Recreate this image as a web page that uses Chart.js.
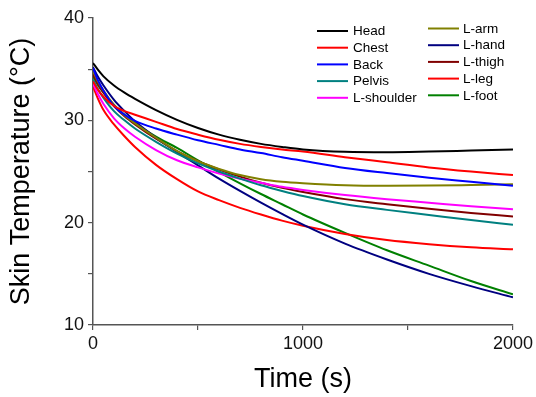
<!DOCTYPE html>
<html>
<head>
<meta charset="utf-8">
<script src="https://cdn.jsdelivr.net/npm/chart.js@4.4.0/dist/chart.umd.min.js"></script>
<style>
  html, body { margin: 0; padding: 0; background: #fff; }
  #wrap { width: 536px; height: 397px; }
</style>
</head>
<body>
<div id="wrap"><canvas id="chart" width="536" height="397"></canvas></div>
<script>
// time points (s)
const times = [0, 25, 50, 100, 150, 200, 300, 400, 500, 600, 700, 800, 900, 1000, 1200, 1400, 1600, 1800, 2000];

// skin temperatures (°C)
const head      = [35.6, 34.9, 34.3, 33.4, 32.7, 32.1, 31.0, 30.05, 29.25, 28.6, 28.1, 27.7, 27.4, 27.15, 26.92, 26.88, 26.95, 27.05, 27.15];
const chest     = [33.8, 32.95, 32.3, 31.4, 30.9, 30.55, 29.85, 29.15, 28.6, 28.1, 27.7, 27.4, 27.15, 26.95, 26.4, 25.9, 25.4, 25.0, 24.65];
const back      = [35.1, 33.85, 32.9, 31.4, 30.55, 29.95, 29.2, 28.6, 28.05, 27.6, 27.15, 26.8, 26.4, 26.05, 25.35, 24.85, 24.4, 24.0, 23.6];
const pelvis    = [34.0, 33.0, 32.2, 30.9, 30.0, 29.2, 27.9, 26.75, 25.8, 25.0, 24.3, 23.65, 23.1, 22.6, 21.8, 21.25, 20.75, 20.25, 19.8];
const lShoulder = [33.6, 32.5, 31.6, 30.2, 29.2, 28.4, 27.1, 26.1, 25.4, 24.8, 24.3, 23.9, 23.5, 23.2, 22.7, 22.3, 21.95, 21.6, 21.3];
const lArm      = [34.8, 33.75, 32.9, 31.5, 30.5, 29.7, 28.3, 27.0, 26.0, 25.25, 24.65, 24.25, 24.0, 23.85, 23.65, 23.6, 23.62, 23.68, 23.75];
const lHand     = [35.2, 34.2, 33.4, 32.0, 30.9, 29.9, 28.3, 26.9, 25.6, 24.3, 23.1, 21.95, 20.85, 19.8, 17.95, 16.4, 15.0, 13.8, 12.7];
const lThigh    = [34.5, 33.5, 32.7, 31.4, 30.4, 29.6, 28.2, 27.0, 26.0, 25.2, 24.5, 23.9, 23.4, 23.0, 22.3, 21.8, 21.35, 20.95, 20.6];
const lLeg      = [33.3, 32.05, 31.0, 29.6, 28.45, 27.4, 25.65, 24.25, 23.05, 22.2, 21.45, 20.8, 20.2, 19.7, 18.9, 18.3, 17.9, 17.6, 17.4];
const lFoot     = [34.3, 33.4, 32.7, 31.5, 30.55, 29.7, 28.4, 27.3, 26.1, 24.95, 23.85, 22.8, 21.8, 20.8, 19.0, 17.3, 15.8, 14.3, 13.0];

const seriesNames = ['Head', 'Chest', 'Back', 'Pelvis', 'L-shoulder', 'L-arm', 'L-hand', 'L-thigh', 'L-leg', 'L-foot'];
const seriesData = [head, chest, back, pelvis, lShoulder, lArm, lHand, lThigh, lLeg, lFoot];
const seriesColors = ['#000000', '#ff0000', '#0000ff', '#008080', '#ff00ff', '#808000', '#000080', '#800000', '#ff0000', '#008000'];

const xTicks = [0, 1000, 2000];
const yTicks = [10, 20, 30, 40];

const FONT = 'Arial, "Liberation Sans", sans-serif';
const AXIS = '#555555';

// two-column legend like the original figure
const legendPlugin = {
  id: 'twoColLegend',
  afterDraw(chart) {
    const ctx = chart.ctx;
    const cols = [
      { lineX: 317, textX: 353, y0: 31 },
      { lineX: 428, textX: 463, y0: 28.5 }
    ];
    ctx.save();
    ctx.font = '13.5px ' + FONT;
    ctx.textBaseline = 'middle';
    ctx.fillStyle = '#000';
    chart.data.datasets.forEach(function(ds, i) {
      const c = cols[Math.floor(i / 5)];
      const y = c.y0 + (i % 5) * 16.7;
      ctx.strokeStyle = ds.borderColor;
      ctx.lineWidth = 2;
      ctx.beginPath();
      ctx.moveTo(c.lineX, y);
      ctx.lineTo(c.lineX + 31, y);
      ctx.stroke();
      ctx.fillText(ds.label, c.textX, y + 0.5);
    });
    ctx.restore();
  }
};

const datasets = seriesNames.map(function(name, i) {
  return {
    label: name,
    data: times.map(function(t, j) { return { x: t, y: seriesData[i][j] }; }),
    borderColor: seriesColors[i],
    backgroundColor: seriesColors[i],
    borderWidth: 2,
    pointRadius: 0,
    cubicInterpolationMode: 'monotone',
    fill: false
  };
});

new Chart(document.getElementById('chart'), {
  type: 'line',
  data: { datasets: datasets },
  options: {
    responsive: false,
    animation: false,
    layout: { padding: { top: 18, right: 23, left: 0, bottom: 0 } },
    plugins: { legend: { display: false }, tooltip: { enabled: false } },
    scales: {
      x: {
        type: 'linear',
        min: 0, max: 2000,
        afterFit: function(s) { s.height = 72; },
        border: { display: true, color: AXIS, width: 1.5 },
        grid: { drawOnChartArea: false, drawTicks: true, tickLength: 5, color: AXIS, lineWidth: 1.2 },
        ticks: {
          stepSize: 500, maxRotation: 0, padding: 3, color: '#111',
          font: { family: FONT, size: 18 },
          callback: function(v) { return xTicks.includes(v) ? String(v) : ''; }
        },
        title: {
          display: true, text: 'Time (s)', color: '#000',
          font: { family: FONT, size: 27 }, padding: { top: 0, bottom: 1 }
        }
      },
      y: {
        min: 10, max: 40,
        afterFit: function(s) { s.width = 93; },
        border: { display: true, color: AXIS, width: 1.5 },
        grid: { drawOnChartArea: false, drawTicks: true, tickLength: 5, color: AXIS, lineWidth: 1.2 },
        ticks: {
          stepSize: 5, padding: 4, color: '#111',
          font: { family: FONT, size: 18 },
          callback: function(v) { return yTicks.includes(v) ? String(v) : ''; }
        },
        title: {
          display: true, text: 'Skin Temperature (°C)', color: '#000',
          font: { family: FONT, size: 27 }, padding: { top: 5, bottom: 0 }
        }
      }
    }
  },
  plugins: [legendPlugin]
});
</script>
</body>
</html>
